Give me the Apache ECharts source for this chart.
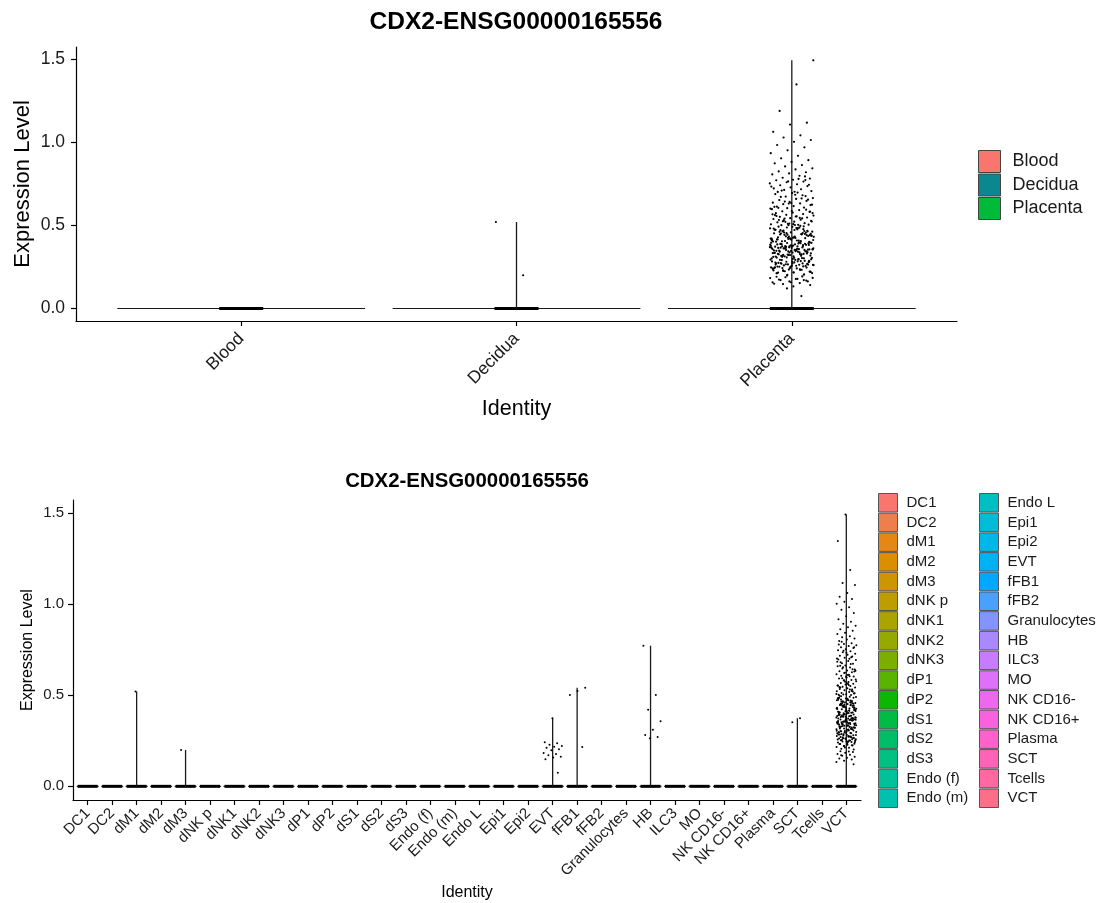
<!DOCTYPE html>
<html>
<head>
<meta charset="utf-8">
<script src="https://cdn.jsdelivr.net/npm/echarts@6/dist/echarts.min.js"></script>
<style>html,body{margin:0;padding:0;background:#fff}#main{width:1100px;height:903px}</style>
</head>
<body>
<div id="main"></div>
<script>
// ---------------- data ----------------
const chartTitle = 'CDX2-ENSG00000165556';
const topCats = ['Blood', 'Decidua', 'Placenta'];
const botCats = ['DC1','DC2','dM1','dM2','dM3','dNK p','dNK1','dNK2','dNK3','dP1','dP2','dS1','dS2','dS3','Endo (f)','Endo (m)',
  'Endo L','Epi1','Epi2','EVT','fFB1','fFB2','Granulocytes','HB','ILC3','MO','NK CD16-','NK CD16+','Plasma','SCT','Tcells','VCT'];
const yTicks = [0, 0.5, 1.0, 1.5];

// non-zero expression values per cell type (all other cells are 0)
const dM1Vals = [0.52];
const dM3Vals = [0.20];
const evtVals = [0.374, 0.242, 0.236, 0.229, 0.221, 0.218, 0.212, 0.203, 0.198, 0.183, 0.178, 0.171, 0.163, 0.158, 0.149, 0.075];
const fFB1Vals = [0.541, 0.523, 0.502, 0.216];
const hbVals = [0.772, 0.501, 0.421, 0.357, 0.311, 0.282, 0.271, 0.264];
const sctVals = [0.374, 0.352];
const vctVals = [
  1.492,1.347,1.188,1.117,1.106,1.062,1.041,1.028,1.013,1.002,0.983,0.969,0.951,0.934,0.918,0.903,0.892,0.881,0.873,0.862,0.854,0.843,0.836,0.824,0.819,0.812,0.806,
  0.798,0.786,0.781,0.774,0.771,0.763,0.759,0.752,0.747,0.741,0.736,0.728,0.722,0.717,0.713,0.706,0.702,0.701,0.794,0.764,0.733,0.779,0.709,0.744,
  0.694,0.688,0.681,0.673,0.664,0.659,0.652,0.647,0.641,0.636,0.632,0.627,0.622,0.616,0.613,0.607,0.603,0.601,0.697,0.671,0.654,0.634,0.611,0.662,0.643,0.624,0.684,0.605,0.676,0.631,
  0.597,0.592,0.584,0.581,0.577,0.573,0.568,0.563,0.559,0.554,0.551,0.547,0.543,0.538,0.534,0.531,0.527,0.522,0.518,0.513,0.509,0.506,0.503,0.501,0.504,0.586,0.562,0.542,0.521,0.574,0.553,0.532,0.594,0.511,0.566,0.545,0.524,0.583,0.507,0.556,
  0.494,0.487,0.482,0.476,0.471,0.463,0.458,0.452,0.447,0.443,0.438,0.432,0.428,0.423,0.418,0.413,0.408,0.404,0.401,0.491,
  0.473,0.454,0.434,0.412,0.484,0.461,0.441,0.422,0.403,0.497,0.468,0.449,0.427,0.416,0.466,0.444,0.421,0.483,0.451,0.436,
  0.414,0.474,0.446,0.406,0.462,0.424,0.492,0.456,0.433,0.411,0.486,0.464,0.442,0.426,0.402,0.477,0.453,0.431,0.409,0.445,
  0.467,0.419,0.481,0.405,0.457,0.437,0.472,0.415,0.448,0.425,
  0.396,0.391,0.387,0.382,0.376,0.372,0.367,0.363,0.357,0.353,0.348,0.344,0.337,0.333,0.327,0.323,0.318,0.313,0.306,0.302,
  0.394,0.384,0.373,0.366,0.354,0.346,0.334,0.325,0.314,0.304,0.386,0.364,0.343,0.322,0.301,0.398,0.374,0.356,0.336,0.312,
  0.381,0.371,0.362,0.351,0.342,0.331,0.321,0.311,0.393,0.361,0.332,0.305,0.385,0.352,0.324,0.377,0.341,0.316,0.392,0.365,
  0.335,0.303,0.375,0.355,0.345,0.326,0.383,0.368,0.358,0.338,0.315,0.397,0.378,0.347,0.328,0.307,0.369,0.359,0.388,0.339,
  0.379,0.349,0.317,0.362,0.395,0.352,0.329,0.389,0.343,0.366,
  0.297,0.291,0.286,0.282,0.276,0.271,0.266,0.262,0.257,0.251,0.246,0.242,0.237,0.232,0.226,0.221,0.216,0.212,0.206,0.202,
  0.294,0.284,0.273,0.264,0.254,0.244,0.233,0.224,0.213,0.292,0.274,0.256,0.234,0.283,0.263,0.243,0.222,0.298,0.272,0.253,
  0.281,0.261,0.241,0.293,0.268,0.249,0.229,0.285,0.259,0.296,0.277,0.252,0.287,0.265,0.247,0.295,0.269,0.279,0.258,0.248,
  0.193,0.188,0.184,0.178,0.174,0.168,0.163,0.157,0.153,0.147,0.141,0.133,0.191,0.171,0.121
];

// top panel: cells pooled by tissue
const bloodVals = [];
const deciduaVals = [].concat(dM1Vals, dM3Vals);
const placentaVals = [].concat(evtVals, fFB1Vals, hbVals, sctVals, vctVals);

const topVals = [bloodVals, deciduaVals, placentaVals];
const botNonZero = { 'dM1': dM1Vals, 'dM3': dM3Vals, 'EVT': evtVals, 'fFB1': fFB1Vals, 'HB': hbVals, 'SCT': sctVals, 'VCT': vctVals };
const botVals = botCats.map(c => botNonZero[c] || []);

// ---------------- styles ----------------
const FONT = 'Liberation Sans, Arial, sans-serif';
const topColors = ['#F8766D', '#0B878F', '#00BA38'];

function hcl(h, c, l) {
  const hr = h * Math.PI / 180;
  const U = c * Math.cos(hr), V = c * Math.sin(hr);
  const Y = l > 8 ? Math.pow((l + 16) / 116, 3) : l / 903.3;
  const xn = 0.95047, yn = 1.0, zn = 1.08883;
  const d = xn + 15 * yn + 3 * zn;
  const un = 4 * xn / d, vn = 9 * yn / d;
  const u = U / (13 * l) + un, v = V / (13 * l) + vn;
  const X = Y * 9 * u / (4 * v);
  const Z = Y * (12 - 3 * u - 20 * v) / (4 * v);
  let r = 3.240479 * X - 1.537150 * Y - 0.498535 * Z;
  let g = -0.969256 * X + 1.875992 * Y + 0.041556 * Z;
  let b = 0.055648 * X - 0.204043 * Y + 1.057311 * Z;
  const gam = t => { t = t <= 0.0031308 ? 12.92 * t : 1.055 * Math.pow(t, 1 / 2.4) - 0.055; return Math.max(0, Math.min(255, Math.round(t * 255))); };
  return 'rgb(' + gam(r) + ',' + gam(g) + ',' + gam(b) + ')';
}
const botColors = botCats.map((_, i) => hcl(15 + i * 360 / botCats.length, 100, 65));

function makeRender(jit, ptR) {
  return function (params, api) {
    const ci = api.value(0), v = api.value(1);
    const base = api.coord([ci, 0]);
    const band = api.size([1, 0])[0];
    if (params.dataIndex === 0) {
      const children = [
        { type: 'line', shape: { x1: base[0] - 0.45 * band, y1: base[1], x2: base[0] + 0.45 * band, y2: base[1] }, style: { stroke: '#1a1a1a', lineWidth: 1.1 } },
        { type: 'line', shape: { x1: base[0] - jit * band, y1: base[1], x2: base[0] + jit * band, y2: base[1] }, style: { stroke: '#000', lineWidth: 3 } }
      ];
      if (v > 0) {
        const tp = api.coord([ci, v]);
        children.push({ type: 'line', shape: { x1: base[0], y1: base[1], x2: base[0], y2: tp[1] }, style: { stroke: '#1a1a1a', lineWidth: 1.3 } });
      }
      return { type: 'group', children };
    }
    const k = params.dataIndex;
    const off = ((((k * 0.6180339887) + ci * 0.4142) % 1) * 2 - 1) * jit * band;
    const p = api.coord([ci, v]);
    return { type: 'circle', shape: { cx: base[0] + off, cy: p[1], r: ptR }, style: { fill: '#000' } };
  };
}

function makeSeries(cats, valsList, colors, idx, jit, ptR) {
  return cats.map((name, ci) => {
    const vals = valsList[ci];
    const maxV = vals.length ? Math.max.apply(null, vals) : 0;
    const data = [[ci, maxV]].concat(vals.map(v => [ci, v]));
    return {
      type: 'custom', name, xAxisIndex: idx, yAxisIndex: idx,
      itemStyle: { color: colors[ci] }, data, silent: true, clip: false,
      renderItem: makeRender(jit, ptR)
    };
  });
}

function xAxisCfg(idx, cats, fs, nameFs, nameGap, margin) {
  const ticks = cats.map((_, i) => i);
  return {
    type: 'value', gridIndex: idx, min: -0.6, max: cats.length - 0.4,
    axisLine: { show: true, onZero: false, lineStyle: { color: '#000', width: 1.2 } },
    axisTick: { show: true, customValues: ticks, length: 5, lineStyle: { color: '#000', width: 1.2 } },
    axisLabel: { customValues: ticks, formatter: v => cats[Math.round(v)], rotate: 45, fontSize: fs, color: '#1a1a1a', fontFamily: FONT, margin: margin },
    splitLine: { show: false },
    name: 'Identity', nameLocation: 'middle', nameGap: nameGap,
    nameTextStyle: { fontSize: nameFs, color: '#000', fontFamily: FONT }
  };
}
function yAxisCfg(idx, fs, nameFs, nameGap, margin) {
  return {
    type: 'value', gridIndex: idx, min: -0.075, max: 1.572,
    axisLine: { show: true, onZero: false, lineStyle: { color: '#000', width: 1.2 } },
    axisTick: { show: true, customValues: yTicks, length: 5, lineStyle: { color: '#000', width: 1.2 } },
    axisLabel: { customValues: yTicks, formatter: v => v.toFixed(1), fontSize: fs, color: '#1a1a1a', fontFamily: FONT, margin: margin },
    splitLine: { show: false },
    name: 'Expression Level', nameLocation: 'middle', nameRotate: 90, nameGap: nameGap, nameMoveOverlap: false,
    nameTextStyle: { fontSize: nameFs, color: '#000', fontFamily: FONT }
  };
}

const chart = echarts.init(document.getElementById('main'), null, { renderer: 'canvas' });
chart.setOption({
  animation: false,
  backgroundColor: '#fff',
  title: [
    { text: chartTitle, left: 516, top: 10, padding: 0, textAlign: 'center', textStyle: { fontSize: 24.5, fontWeight: 'bold', color: '#000', fontFamily: FONT } },
    { text: chartTitle, left: 467, top: 471, padding: 0, textAlign: 'center', textStyle: { fontSize: 20.4, fontWeight: 'bold', color: '#000', fontFamily: FONT } }
  ],
  grid: [
    { left: 76, top: 47, width: 881, height: 274 },
    { left: 73, top: 500, width: 788, height: 300 }
  ],
  xAxis: [xAxisCfg(0, topCats, 17.5, 21.5, 77, 15), xAxisCfg(1, botCats, 15, 16, 85, 11)],
  yAxis: [yAxisCfg(0, 17.5, 22, 42, 11), yAxisCfg(1, 15, 16, 37, 9)],
  legend: [
    { data: topCats, orient: 'vertical', left: 978, top: 150, padding: 0, icon: 'rect', itemWidth: 22, itemHeight: 22, itemGap: 0.5, selectedMode: false,
      itemStyle: { borderColor: '#444', borderWidth: 1 }, textStyle: { fontSize: 18, lineHeight: 20, color: '#1a1a1a', fontFamily: FONT, padding: [0, 0, 0, 7] } },
    { data: botCats.slice(0, 16), orient: 'vertical', left: 878, top: 493, padding: 0, icon: 'rect', itemWidth: 19, itemHeight: 18.5, itemGap: 0.2, selectedMode: false,
      itemStyle: { borderColor: '#555', borderWidth: 1 }, textStyle: { fontSize: 15, lineHeight: 16, color: '#1a1a1a', fontFamily: FONT, padding: [0, 0, 0, 4] } },
    { data: botCats.slice(16), orient: 'vertical', left: 979, top: 493, padding: 0, icon: 'rect', itemWidth: 19, itemHeight: 18.5, itemGap: 0.2, selectedMode: false,
      itemStyle: { borderColor: '#555', borderWidth: 1 }, textStyle: { fontSize: 15, lineHeight: 16, color: '#1a1a1a', fontFamily: FONT, padding: [0, 0, 0, 4] } }
  ],
  series: [].concat(
    makeSeries(topCats, topVals, topColors, 0, 0.08, 1.1),
    makeSeries(botCats, botVals, botColors, 1, 0.41, 1.0)
  )
});
</script>
</body>
</html>
